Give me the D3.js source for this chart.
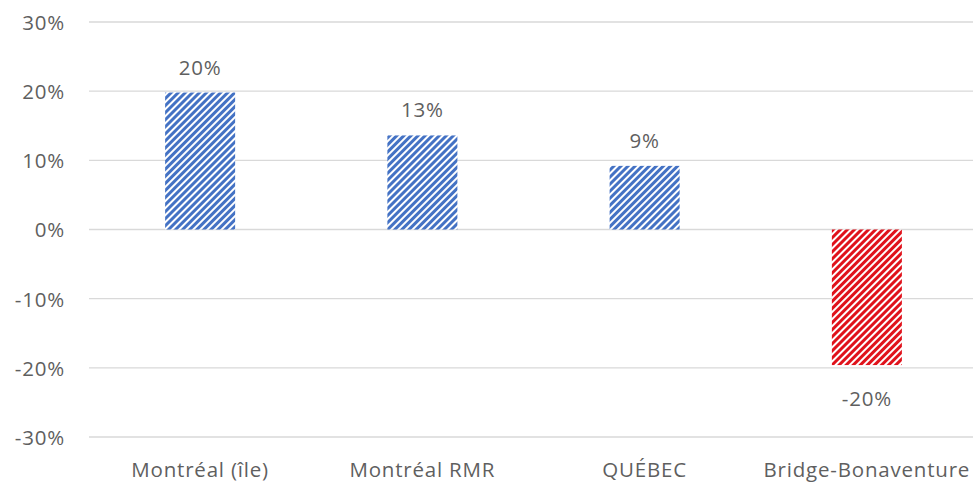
<!DOCTYPE html>
<html><head><meta charset="utf-8">
<script src="https://cdn.jsdelivr.net/npm/d3@7"></script>
<style>body{margin:0;background:#fff}svg{display:block}</style>
</head><body>
<svg id="c" width="973" height="483"></svg>
<script>
const categories = ["Montréal (île)", "Montréal RMR", "QUÉBEC", "Bridge-Bonaventure"];
const values = [19.8, 13.6, 9.2, -19.6];
const valueLabels = ["20%", "13%", "9%", "-20%"];
const yTicks = [30, 20, 10, 0, -10, -20, -30];

const svg = d3.select("#c");
const font = "'Open Sans', sans-serif";
const fs = 20.5, ls = 0.8, col = "#5f5f5f";
const x = d3.scaleBand().domain(categories).range([89, 978]).paddingInner(0.685).paddingOuter(0.3425);
const y = d3.scaleLinear().domain([-30, 30]).range([437, 22]);

const defs = svg.append("defs");
function pat(id, color){
  const p = defs.append("pattern").attr("id", id).attr("patternUnits","userSpaceOnUse")
    .attr("width", 5).attr("height", 5).attr("patternTransform","rotate(45)");
  p.append("rect").attr("width",5).attr("height",5).attr("fill","#fff");
  p.append("rect").attr("x",0).attr("width",3).attr("height",5).attr("fill",color);
}
pat("pb", "#4472C4");
pat("pr", "#E0121B");

svg.append("g").selectAll("line").data(yTicks).join("line")
  .attr("x1", 89).attr("x2", 973).attr("y1", d=>y(d)).attr("y2", d=>y(d))
  .attr("stroke", "#d9d9d9").attr("stroke-width", 1.4);

const yAxis = d3.axisLeft(y).tickValues(yTicks).tickFormat(d=>d+"%").tickSize(0).tickPadding(0);
const ga = svg.append("g").attr("transform","translate(65,0)").call(yAxis);
ga.select(".domain").remove();
ga.selectAll("text").attr("font-family", font).attr("font-size", fs).attr("letter-spacing", ls)
  .attr("fill", col).attr("dy", "0.36em");

svg.append("g").selectAll("rect").data(values).join("rect")
  .attr("x", (d,i)=>x(categories[i])).attr("width", x.bandwidth())
  .attr("y", d=>y(Math.max(0,d))).attr("height", d=>Math.abs(y(d)-y(0)))
  .attr("fill", d=> d<0 ? "url(#pr)" : "url(#pb)");

svg.append("g").selectAll("text").data(values).join("text")
  .attr("x", (d,i)=>x(categories[i]) + x.bandwidth()/2)
  .attr("y", d=> d<0 ? y(d)+41 : y(d)-18)
  .attr("text-anchor","middle").attr("font-family", font).attr("font-size", fs).attr("letter-spacing", ls)
  .attr("fill", col)
  .text((d,i)=>valueLabels[i]);

const xAxis = d3.axisBottom(x).tickSize(0).tickPadding(0);
const gx = svg.append("g").attr("transform","translate(0,477)").call(xAxis);
gx.select(".domain").remove();
gx.selectAll("text").attr("font-family", font).attr("font-size", fs).attr("letter-spacing", ls)
  .attr("fill", col).attr("dy", 0);
</script>
</body></html>
